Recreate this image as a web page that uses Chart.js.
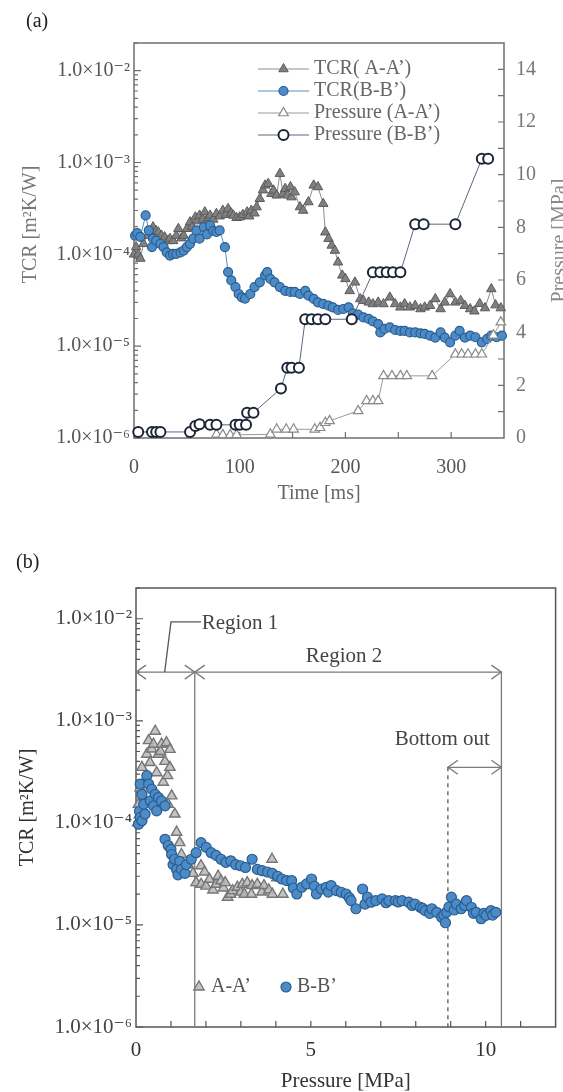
<!DOCTYPE html>
<html>
<head>
<meta charset="utf-8">
<script src="https://cdn.jsdelivr.net/npm/chart.js@4.4.1/dist/chart.umd.min.js"></script>
<style>
  html, body { margin: 0; padding: 0; background: #fff; overflow: hidden; }
  #chartA { position: absolute; left: 0; top: 0; }
  #chartB { position: absolute; left: 0; top: 540px; }
</style>
</head>
<body>
<canvas id="chartA" width="563" height="520"></canvas>
<canvas id="chartB" width="563" height="552"></canvas>
<script>
// ---- panel (a): TCR and pressure vs time ----
const timeTcrA = [0,2,4,6,9,13,16,18,21,23, 26,29,32,34,37,40,42,45,47,50,
  53,55,58,60,62,65,67,70,72,75, 78,81,84,87,89,92,94,97,100,103,
  107,109,111,114,116,119,122,124,127,130, 132,135,138,141,143,145,148,149,152,157,
  160,165,170,174,179,181,184,187,190,193, 197,200,204,209,214,217,222,226,231,236,
  242,247,252,256,261,266,271,275,280,285, 290,294,299,304,309,313,318,322,327,332,
  338,342,347];
const tcrA = [1.0e-4,1.2e-4,1.0e-4,9.0e-5,1.3e-4,1.6e-4,1.75e-4,1.98e-4,1.8e-4,1.74e-4,
  1.6e-4,1.54e-4,1.4e-4,1.48e-4,1.4e-4,1.6e-4,1.9e-4,1.5e-4,1.6e-4,1.9e-4,
  2.24e-4,2.0e-4,2.54e-4,2.3e-4,2.65e-4,2.4e-4,2.88e-4,2.5e-4,2.65e-4,2.4e-4,
  2.77e-4,2.6e-4,3.0e-4,2.7e-4,3.13e-4,2.8e-4,2.65e-4,2.5e-4,2.54e-4,2.7e-4,
  2.88e-4,2.6e-4,3.0e-4,2.8e-4,3.27e-4,4.03e-4,5.0e-4,5.64e-4,5.88e-4,4.57e-4,
  4.97e-4,4.39e-4,7.56e-4,4.57e-4,5.19e-4,4.39e-4,5.41e-4,4.2e-4,4.76e-4,3.27e-4,
  3.0e-4,3.71e-4,5.64e-4,5.41e-4,3.56e-4,1.74e-4,1.48e-4,1.25e-4,1.1e-4,8.2e-5,
  5.9e-5,5.4e-5,4.0e-5,4.96e-5,3.27e-5,3.13e-5,3.0e-5,2.88e-5,3.0e-5,2.88e-5,
  3.4e-5,2.88e-5,2.65e-5,2.88e-5,2.65e-5,2.76e-5,2.54e-5,2.65e-5,2.76e-5,3.27e-5,
  2.54e-5,3.0e-5,3.7e-5,3.0e-5,3.13e-5,2.76e-5,2.54e-5,2.4e-5,2.9e-5,2.6e-5,
  4.2e-5,2.8e-5,2.6e-5];

const timeTcrB = [1,3,6,11,14,17,18,21,25,28, 31,34,37,40,44,47,50,53,56,59,
  62,66,69,72,75,78,81,86,89,92, 96,99,102,105,110,114,119,124,126,129,
  133,138,143,148,152,157,162,165,170,174, 179,184,188,193,198,203,207,212,217,222,
  226,231,233,237,242,247,252,256,261,266, 271,275,280,285,290,294,299,304,308,313,
  318,323,329,334,338,343,348];
const tcrB = [1.6e-4,1.7e-4,1.55e-4,2.65e-4,1.82e-4,1.2e-4,1.48e-4,1.41e-4,1.3e-4,1.2e-4,
  1.05e-4,9.7e-5,1.01e-4,1.01e-4,1.05e-4,1.1e-4,1.2e-4,1.3e-4,1.48e-4,1.82e-4,
  1.48e-4,1.98e-4,1.65e-4,2.06e-4,1.8e-4,1.75e-4,1.82e-4,1.2e-4,6.4e-5,5.2e-5,
  4.4e-5,3.7e-5,3.4e-5,3.3e-5,3.7e-5,4.4e-5,4.96e-5,5.9e-5,6.4e-5,5.4e-5,
  4.96e-5,4.4e-5,4.0e-5,3.9e-5,3.9e-5,3.7e-5,4.0e-5,3.55e-5,3.27e-5,3.0e-5,
  2.88e-5,2.76e-5,2.65e-5,2.48e-5,2.54e-5,2.65e-5,2.28e-5,2.2e-5,2.06e-5,1.98e-5,
  1.86e-5,1.74e-5,1.41e-5,1.54e-5,1.6e-5,1.5e-5,1.47e-5,1.47e-5,1.41e-5,1.41e-5,
  1.38e-5,1.36e-5,1.3e-5,1.24e-5,1.41e-5,1.24e-5,1.1e-5,1.3e-5,1.47e-5,1.24e-5,
  1.3e-5,1.25e-5,1.1e-5,1.2e-5,1.3e-5,1.25e-5,1.3e-5];

const timePressA = [78,84,91,97,129,135,144,151,171,176,181,185,212,220,226,231,236,244,252,258,282,304,310,316,323,329,340,347];
const pressA = [0.14,0.12,0.12,0.12,0.14,0.33,0.33,0.33,0.33,0.39,0.58,0.65,1.03,1.41,1.41,1.41,2.36,2.36,2.36,2.36,2.36,3.18,3.18,3.18,3.18,3.18,3.9,4.4];

const timePressB = [4,17,21,25,53,58,62,72,78,96,100,106,107,113,139,145,149,156,162,168,174,181,206,226,233,239,245,252,266,274,304,329,335];
const pressB = [0.23,0.23,0.23,0.23,0.23,0.46,0.52,0.5,0.5,0.5,0.5,0.5,0.96,0.96,1.88,2.67,2.67,2.67,4.51,4.51,4.51,4.51,4.51,6.29,6.29,6.29,6.29,6.29,8.12,8.12,8.12,10.6,10.6];

// ---- panel (b): TCR vs pressure ----
const pressScatA = [0.05,0.07,0.1,0.12,0.17,0.2,0.25,0.31,0.36,0.4, 0.45,0.5,0.55,0.59,0.64,0.7,0.73,0.78,0.83,0.87,
  0.9,0.92,0.97,0.97,1.02,1.11,1.16,1.25,1.3,1.49, 1.63,1.72,1.86,1.86,1.96,2.0,2.1,2.2,2.29,2.35,
  2.43,2.5,2.55,2.62,2.7,2.76,2.9,3.0,3.04,3.1, 3.18,3.3,3.32,3.47,3.6,3.66,3.8,3.89,3.9,4.03, 4.2];
const tcrScatA = [1.0e-4,1.52e-4,1.2e-4,2.2e-4,3.5e-4,1.8e-4,2.6e-4,4.7e-4,6.4e-4,3.9e-4,
  5.3e-4,5.9e-4,7.9e-4,3.1e-4,4.7e-4,5.0e-4,5.9e-4,2.5e-4,4.0e-4,6.1e-4,
  2.9e-4,1.52e-4,5.25e-4,3.5e-4,1.84e-4,1.22e-4,8.1e-5,6.4e-5,4.9e-5,3.9e-5,
  3.2e-5,2.6e-5,3.8e-5,2.5e-5,3.3e-5,2.4e-5,2.8e-5,2.2e-5,2.5e-5,3.0e-5,
  2.7e-5,2.3e-5,2.6e-5,1.87e-5,2.0e-5,2.17e-5,2.34e-5,2.1e-5,2.5e-5,2.0e-5,
  2.6e-5,2.0e-5,2.43e-5,2.5e-5,2.1e-5,2.43e-5,2.2e-5,4.4e-5,2.0e-5,2.9e-5, 2.0e-5];

const pressScatB = [0.07,0.1,0.12,0.12,0.17,0.17,0.22,0.26,0.31,0.36,
  0.41,0.45,0.5,0.55,0.59,0.64,0.73,0.83,0.83,0.92, 1.0,1.02,1.06,1.1,1.16,1.2,1.25,1.3,1.4,1.44,
  1.58,1.72,1.86,2.01,2.15,2.29,2.43,2.57,2.71,2.85, 2.99,3.13,3.32,3.47,3.61,3.76,3.9,4.05,4.17,4.31,
  4.45,4.5,4.6,4.74,4.88,5.02,5.1,5.16,5.3,5.44, 5.5,5.58,5.73,5.87,6.01,6.1,6.15,6.29,6.48,6.55,
  6.62,6.72,6.86,7.04,7.15,7.23,7.42,7.5,7.61,7.8, 7.9,7.98,8.13,8.2,8.27,8.4,8.46,8.6,8.74,8.8,
  8.85,8.88,8.95,9.02,9.1,9.16,9.3,9.4,9.45,9.59, 9.65,9.73,9.87,9.95,10.01,10.15,10.2,10.29];
const tcrScatB = [9.7e-5,1.3e-4,1.13e-4,2.4e-4,1.05e-4,1.9e-4,1.52e-4,1.22e-4,2.9e-4,2.4e-4,
  1.64e-4,2.14e-4,1.47e-4,1.9e-4,1.31e-4,1.77e-4,1.64e-4,1.47e-4,6.9e-5,6.0e-5,
  5.5e-5,4.9e-5,3.9e-5,4.4e-5,3.5e-5,3.1e-5,4.2e-5,3.5e-5,3.2e-5,3.9e-5,
  4.4e-5,5.1e-5,6.4e-5,5.75e-5,5.1e-5,4.8e-5,4.4e-5,4.1e-5,4.25e-5,3.9e-5,
  3.8e-5,3.66e-5,4.4e-5,3.5e-5,3.4e-5,3.3e-5,3.2e-5,3.0e-5,2.82e-5,2.72e-5,
  2.72e-5,2.3e-5,2.01e-5,2.34e-5,2.52e-5,2.82e-5,2.4e-5,2.01e-5,2.25e-5,2.34e-5,
  2.1e-5,2.43e-5,2.17e-5,2.09e-5,2.01e-5,1.85e-5,1.73e-5,1.44e-5,2.25e-5,1.6e-5,
  1.87e-5,1.67e-5,1.73e-5,1.8e-5,1.65e-5,1.73e-5,1.73e-5,1.68e-5,1.73e-5,1.67e-5,
  1.55e-5,1.6e-5,1.49e-5,1.45e-5,1.38e-5,1.3e-5,1.44e-5,1.33e-5,1.19e-5,1.25e-5,
  1.05e-5,1.33e-5,1.5e-5,1.87e-5,1.4e-5,1.6e-5,1.44e-5,1.55e-5,1.73e-5,1.49e-5,
  1.3e-5,1.33e-5,1.15e-5,1.3e-5,1.24e-5,1.38e-5,1.25e-5,1.33e-5];

// ---- ticks ----
const decades = [1e-6, 1e-5, 1e-4, 1e-3, 1e-2];
const minorLog = [];
decades.forEach(d => { for (let k = 2; k <= 9; k++) if (k * d <= 2e-2) minorLog.push(k * d); });
const timeLabelsA = [0, 100, 200, 300];
const timeMarksA = [0, 50, 100, 150, 200, 250, 300];
const pressLabelsA = [0, 2, 4, 6, 8, 10, 12, 14];
const pressMarksA = [1, 2, 3, 4, 5, 6, 7, 8, 9, 10, 11, 12, 13, 14];
const pressLabelsB = [0, 5, 10];
const pressMarksB = [1, 2, 3, 4, 5, 6, 7, 8, 9, 10, 11];

// region markers in (b), data space
const regionSplit = 1.68, regionEnd = 10.45, bottomOutStart = 8.92;
const regionArrowY = 3.0e-3, bottomOutY = 3.5e-4;
const leaderY = 9.3e-3, region2LabelY = 4.3e-3, bottomOutLabelY = 6.5e-4;

const FONT = "'Liberation Serif', 'DejaVu Serif', serif";

function pts(xs, ys) { return xs.map((x, i) => ({ x: x, y: ys[i] })); }

const supMap = { '-': '\u207B', '0': '\u2070', '1': '\u00B9', '2': '\u00B2', '3': '\u00B3',
  '4': '\u2074', '5': '\u2075', '6': '\u2076', '7': '\u2077', '8': '\u2078', '9': '\u2079' };
function sciLabel(v) {
  const e = Math.round(Math.log10(v));
  return '1.0\u00D710' + String(e).split('').map(c => supMap[c]).join('');
}
function setTicks(values) { return scale => { scale.ticks = values.map(v => ({ value: v })); }; }
function fixWidth(w) { return scale => { scale.width = w; }; }
function fixHeight(h) { return scale => { scale.height = h; }; }

function innerTicks(ctx, chart, id, values, len, side) {
  const s = chart.scales[id], a = chart.chartArea;
  ctx.beginPath();
  values.forEach(v => {
    const p = s.getPixelForValue(v);
    if (side === 'left') { ctx.moveTo(a.left, p); ctx.lineTo(a.left + len, p); }
    if (side === 'right') { ctx.moveTo(a.right, p); ctx.lineTo(a.right - len, p); }
    if (side === 'bottom') { ctx.moveTo(p, a.bottom); ctx.lineTo(p, a.bottom - len); }
  });
  ctx.stroke();
}
function vText(ctx, text, x, y) {
  ctx.save();
  ctx.translate(x, y);
  ctx.rotate(-Math.PI / 2);
  ctx.textAlign = 'center';
  ctx.textBaseline = 'middle';
  ctx.fillText(text, 0, 0);
  ctx.restore();
}
function marker(ctx, ds, x, y) {
  ctx.fillStyle = ds.pointBackgroundColor;
  ctx.strokeStyle = ds.pointBorderColor;
  ctx.lineWidth = ds.pointBorderWidth;
  Chart.helpers.drawPoint(ctx, { pointStyle: ds.pointStyle, radius: ds.pointRadius, rotation: 0, borderWidth: ds.pointBorderWidth }, x, y);
}
function chevron(ctx, x, y, dir) {
  ctx.beginPath();
  ctx.moveTo(x - dir * 10, y - 7);
  ctx.lineTo(x, y);
  ctx.lineTo(x - dir * 10, y + 7);
  ctx.stroke();
}

function tickFont(size) { return { family: FONT, size: size }; }

// ---------- chart (a) ----------
const frameA = {
  id: 'frameA',
  beforeDatasetsDraw(chart) {
    const ctx = chart.ctx, a = chart.chartArea;
    ctx.save();
    ctx.strokeStyle = '#6f6f6f';
    ctx.lineWidth = 1.5;
    ctx.strokeRect(a.left, a.top, a.right - a.left, a.bottom - a.top);
    ctx.lineWidth = 1.2;
    innerTicks(ctx, chart, 'y', decades, 7, 'left');
    innerTicks(ctx, chart, 'y', minorLog, 4, 'left');
    innerTicks(ctx, chart, 'y2', pressMarksA, 6, 'right');
    innerTicks(ctx, chart, 'x', timeMarksA, 6, 'bottom');
    ctx.restore();
  },
  afterDraw(chart) {
    const ctx = chart.ctx, a = chart.chartArea;
    ctx.save();
    ctx.font = '20px ' + FONT;
    ctx.fillStyle = '#222';
    ctx.textAlign = 'left';
    ctx.textBaseline = 'middle';
    ctx.fillText('(a)', 26, 22);
    ctx.fillStyle = '#777';
    vText(ctx, 'TCR [m\u00B2K/W]', 31, (a.top + a.bottom) / 2 - 16);
    ctx.fillStyle = '#8a8a8a';
    vText(ctx, 'Pressure [MPa]', 560, (a.top + a.bottom) / 2);
    ctx.fillStyle = '#666';
    ctx.textAlign = 'center';
    ctx.fillText('Time [ms]', (a.left + a.right) / 2, a.bottom + 56);
    // legend
    chart.data.datasets.forEach((ds, i) => {
      const y = a.top + 26 + i * 22;
      const x1 = a.left + 124, x2 = a.left + 175;
      ctx.strokeStyle = ds.borderColor;
      ctx.lineWidth = 1;
      ctx.beginPath(); ctx.moveTo(x1, y); ctx.lineTo(x2, y); ctx.stroke();
      marker(ctx, ds, (x1 + x2) / 2, y);
      ctx.fillStyle = '#666';
      ctx.textAlign = 'left';
      ctx.fillText(ds.label, a.left + 180, y);
    });
    ctx.restore();
  }
};

new Chart(document.getElementById('chartA'), {
  type: 'scatter',
  data: {
    datasets: [
      { label: 'TCR( A-A\u2019)', data: pts(timeTcrA, tcrA), yAxisID: 'y', order: 4, showLine: true,
        borderColor: '#8c8c8c', borderWidth: 1, pointStyle: 'triangle', pointRadius: 5.5,
        pointBackgroundColor: '#808080', pointBorderColor: '#5a5a5a', pointBorderWidth: 1, clip: false },
      { label: 'TCR(B-B\u2019)', data: pts(timeTcrB, tcrB), yAxisID: 'y', order: 3, showLine: true,
        borderColor: '#5b8dc0', borderWidth: 1, pointStyle: 'circle', pointRadius: 4.5,
        pointBackgroundColor: '#4b8cc8', pointBorderColor: '#2b5d8f', pointBorderWidth: 1.2, clip: false },
      { label: 'Pressure (A-A\u2019)', data: pts(timePressA, pressA), yAxisID: 'y2', order: 2, showLine: true,
        borderColor: '#9a9a9a', borderWidth: 1, pointStyle: 'triangle', pointRadius: 5.5,
        pointBackgroundColor: '#ffffff', pointBorderColor: '#8a8a8a', pointBorderWidth: 1.2, clip: false },
      { label: 'Pressure (B-B\u2019)', data: pts(timePressB, pressB), yAxisID: 'y2', order: 1, showLine: true,
        borderColor: '#5c6680', borderWidth: 1, pointStyle: 'circle', pointRadius: 5,
        pointBackgroundColor: '#ffffff', pointBorderColor: '#1c2536', pointBorderWidth: 2, clip: false }
    ]
  },
  options: {
    responsive: false,
    animation: false,
    events: [],
    layout: { padding: { top: 43, bottom: 17, left: 0, right: 0 } },
    plugins: { legend: { display: false }, tooltip: { enabled: false } },
    scales: {
      x: {
        type: 'linear', min: 0, max: 350,
        afterBuildTicks: setTicks(timeLabelsA), afterFit: fixHeight(65),
        grid: { display: false, drawTicks: false }, border: { display: false },
        ticks: { autoSkip: false, maxRotation: 0, padding: 18, color: '#555', font: tickFont(20) }
      },
      y: {
        type: 'logarithmic', position: 'left', min: 1e-6, max: 2e-2,
        afterBuildTicks: setTicks(decades), afterFit: fixWidth(134),
        grid: { display: false, drawTicks: false }, border: { display: false },
        ticks: { autoSkip: false, padding: 4, color: '#555', font: tickFont(20), callback: v => sciLabel(v) }
      },
      y2: {
        type: 'linear', position: 'right', min: 0, max: 15,
        afterBuildTicks: setTicks(pressLabelsA), afterFit: fixWidth(59),
        grid: { display: false, drawTicks: false }, border: { display: false },
        ticks: { autoSkip: false, padding: 12, color: '#777', font: tickFont(20) }
      }
    }
  },
  plugins: [frameA]
});

// ---------- chart (b) ----------
const frameB = {
  id: 'frameB',
  beforeDatasetsDraw(chart) {
    const ctx = chart.ctx, a = chart.chartArea;
    const xs = chart.scales.x, ys = chart.scales.y;
    ctx.save();
    ctx.strokeStyle = '#555';
    ctx.lineWidth = 1.5;
    ctx.strokeRect(a.left, a.top, a.right - a.left, a.bottom - a.top);
    ctx.lineWidth = 1.2;
    innerTicks(ctx, chart, 'y', decades, 7, 'left');
    innerTicks(ctx, chart, 'y', minorLog, 4, 'left');
    innerTicks(ctx, chart, 'x', pressMarksB, 6, 'bottom');

    // region annotations
    const yArrow = ys.getPixelForValue(regionArrowY);
    const yBottom = ys.getPixelForValue(1e-6);
    const x0 = xs.getPixelForValue(0), xs1 = xs.getPixelForValue(regionSplit);
    const xe = xs.getPixelForValue(regionEnd), xb = xs.getPixelForValue(bottomOutStart);
    const yBo = ys.getPixelForValue(bottomOutY);
    ctx.strokeStyle = '#7a7a7a';
    ctx.lineWidth = 1.3;
    ctx.beginPath();
    ctx.moveTo(x0, yArrow); ctx.lineTo(xe, yArrow);
    ctx.moveTo(xs1, yArrow); ctx.lineTo(xs1, yBottom);
    ctx.moveTo(xe, yArrow); ctx.lineTo(xe, yBottom);
    ctx.moveTo(xb, yBo); ctx.lineTo(xe, yBo);
    ctx.stroke();
    chevron(ctx, x0, yArrow, -1);
    chevron(ctx, xs1, yArrow, 1);
    chevron(ctx, xs1, yArrow, -1);
    chevron(ctx, xe, yArrow, 1);
    chevron(ctx, xb, yBo, -1);
    chevron(ctx, xe, yBo, 1);
    ctx.setLineDash([4, 4]);
    ctx.strokeStyle = '#555';
    ctx.beginPath(); ctx.moveTo(xb, yBo); ctx.lineTo(xb, yBottom); ctx.stroke();
    ctx.setLineDash([]);
    // leader to "Region 1"
    const yLead = ys.getPixelForValue(leaderY);
    ctx.strokeStyle = '#555';
    ctx.beginPath();
    ctx.moveTo(xs.getPixelForValue(0.82), yArrow);
    ctx.lineTo(xs.getPixelForValue(1.0), yLead);
    ctx.lineTo(xs.getPixelForValue(1.86), yLead);
    ctx.stroke();
    ctx.restore();
  },
  afterDraw(chart) {
    const ctx = chart.ctx, a = chart.chartArea;
    const xs = chart.scales.x, ys = chart.scales.y;
    ctx.save();
    ctx.font = '20px ' + FONT;
    ctx.fillStyle = '#222';
    ctx.textBaseline = 'middle';
    ctx.textAlign = 'left';
    ctx.fillText('(b)', 16, 23);
    ctx.fillStyle = '#333';
    vText(ctx, 'TCR [m\u00B2K/W]', 28, (a.top + a.bottom) / 2);
    ctx.font = '21px ' + FONT;
    ctx.textAlign = 'center';
    ctx.fillText('Pressure [MPa]', (a.left + a.right) / 2, a.bottom + 54);
    ctx.fillStyle = '#444';
    ctx.textAlign = 'left';
    ctx.fillText('Region 1', xs.getPixelForValue(1.88), ys.getPixelForValue(leaderY) + 2);
    ctx.textAlign = 'center';
    ctx.fillText('Region 2', xs.getPixelForValue(5.95), ys.getPixelForValue(region2LabelY));
    ctx.fillText('Bottom out', xs.getPixelForValue(8.76), ys.getPixelForValue(bottomOutLabelY));
    // legend
    const ly = a.bottom - 40;
    const dsA = chart.data.datasets[0], dsB = chart.data.datasets[1];
    marker(ctx, dsA, a.left + 63, ly);
    ctx.fillStyle = '#555';
    ctx.textAlign = 'left';
    ctx.font = '20px ' + FONT;
    ctx.fillText('A-A\u2019', a.left + 75, ly);
    marker(ctx, dsB, a.left + 150, ly);
    ctx.fillStyle = '#555';
    ctx.fillText('B-B\u2019', a.left + 161, ly);
    ctx.restore();
  }
};

new Chart(document.getElementById('chartB'), {
  type: 'scatter',
  data: {
    datasets: [
      { label: 'A-A\u2019', data: pts(pressScatA, tcrScatA), order: 2, pointStyle: 'triangle', pointRadius: 6,
        pointBackgroundColor: 'rgba(185,185,185,0.85)', pointBorderColor: '#767676', pointBorderWidth: 1.4, clip: false },
      { label: 'B-B\u2019', data: pts(pressScatB, tcrScatB), order: 1, pointStyle: 'circle', pointRadius: 5,
        pointBackgroundColor: '#4b8cc8', pointBorderColor: '#2b5d8f', pointBorderWidth: 1.2, clip: false }
    ]
  },
  options: {
    responsive: false,
    animation: false,
    events: [],
    layout: { padding: { top: 48, bottom: 0, left: 0, right: 4 } },
    plugins: { legend: { display: false }, tooltip: { enabled: false } },
    scales: {
      x: {
        type: 'linear', min: 0, max: 12,
        afterBuildTicks: setTicks(pressLabelsB), afterFit: fixHeight(65),
        grid: { display: false, drawTicks: false }, border: { display: false },
        ticks: { autoSkip: false, maxRotation: 0, padding: 11, color: '#333', font: tickFont(21) }
      },
      y: {
        type: 'logarithmic', position: 'left', min: 1e-6, max: 2e-2,
        afterBuildTicks: setTicks(decades), afterFit: fixWidth(136),
        grid: { display: false, drawTicks: false }, border: { display: false },
        ticks: { autoSkip: false, padding: 4, color: '#444', font: tickFont(21), callback: v => sciLabel(v) }
      }
    }
  },
  plugins: [frameB]
});
</script>
</body>
</html>
